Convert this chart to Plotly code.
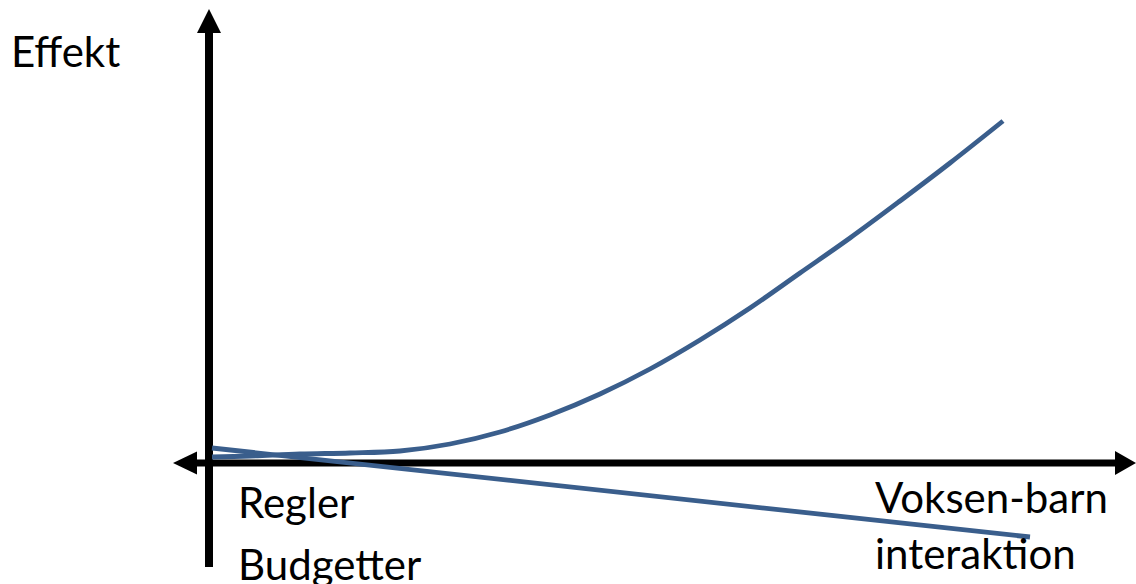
import plotly.graph_objects as go

# Effect curve (rising) and the falling straight line, in chart units
curve_x = [0.03, 0.41, 0.91, 1.41, 1.91, 2.41, 2.91, 3.41, 3.91, 4.41, 4.91, 5.41, 5.91, 6.41, 6.91, 7.41, 7.94]
curve_y = [0.06, 0.07, 0.09, 0.10, 0.12, 0.19, 0.31, 0.48, 0.69, 0.94, 1.23, 1.55, 1.90, 2.25, 2.62, 3.00, 3.42]
line_x = [0.03, 8.21]
line_y = [0.15, -0.74]

# Axis geometry (chart units)
x_range = [-2.09, 9.27]
y_range = [-1.21, 4.63]

y_label = "Effekt"
left_labels = ["Regler", "Budgetter"]
right_labels = ["Voksen-barn", "interaktion"]

blue = "#3A5E8C"
font_family = "Lato, 'Open Sans', sans-serif"
fsize = 42

fig = go.Figure()
fig.add_trace(go.Scatter(x=curve_x, y=curve_y, mode="lines",
                         line=dict(color=blue, width=4.8, shape="spline", smoothing=1.0),
                         hoverinfo="skip"))
fig.add_trace(go.Scatter(x=line_x, y=line_y, mode="lines",
                         line=dict(color=blue, width=4.8), hoverinfo="skip"))

shapes = []
# vertical axis line
shapes.append(dict(type="line", xref="x", yref="y", x0=0, x1=0, y0=-1.04, y1=4.32,
                   line=dict(color="black", width=8), layer="below"))
# top arrowhead
shapes.append(dict(type="path", xref="x", yref="y",
                   path="M -0.12,4.30 L 0,4.54 L 0.12,4.30 Z",
                   fillcolor="black", line=dict(color="black", width=0), layer="below"))
# horizontal axis line
shapes.append(dict(type="line", xref="x", yref="y", x0=-0.14, x1=9.08, y0=0, y1=0,
                   line=dict(color="black", width=7), layer="below"))
# left arrowhead
shapes.append(dict(type="path", xref="x", yref="y",
                   path="M -0.12,0.115 L -0.36,0 L -0.12,-0.115 Z",
                   fillcolor="black", line=dict(color="black", width=0), layer="below"))
# right arrowhead
shapes.append(dict(type="path", xref="x", yref="y",
                   path="M 9.06,0.12 L 9.27,0 L 9.06,-0.12 Z",
                   fillcolor="black", line=dict(color="black", width=0), layer="below"))

annotations = [
    dict(x=-2.00, y=4.12, text=y_label),
    dict(x=0.27, y=-0.39, text=left_labels[0]),
    dict(x=0.27, y=-1.01, text=left_labels[1]),
    dict(x=6.64, y=-0.34, text=right_labels[0]),
    dict(x=6.64, y=-0.90, text=right_labels[1]),
]
for a in annotations:
    a.update(xref="x", yref="y", xanchor="left", yanchor="middle", showarrow=False,
             font=dict(family=font_family, size=fsize, color="black"))

fig.update_layout(
    width=1136, height=584,
    margin=dict(l=0, r=0, t=0, b=0),
    paper_bgcolor="white", plot_bgcolor="white",
    showlegend=False,
    xaxis=dict(range=x_range, visible=False, fixedrange=True),
    yaxis=dict(range=y_range, visible=False, fixedrange=True),
    shapes=shapes, annotations=annotations,
)

fig.write_html("out.html", config={"displayModeBar": False},
               post_script="document.body.style.margin='0';")
